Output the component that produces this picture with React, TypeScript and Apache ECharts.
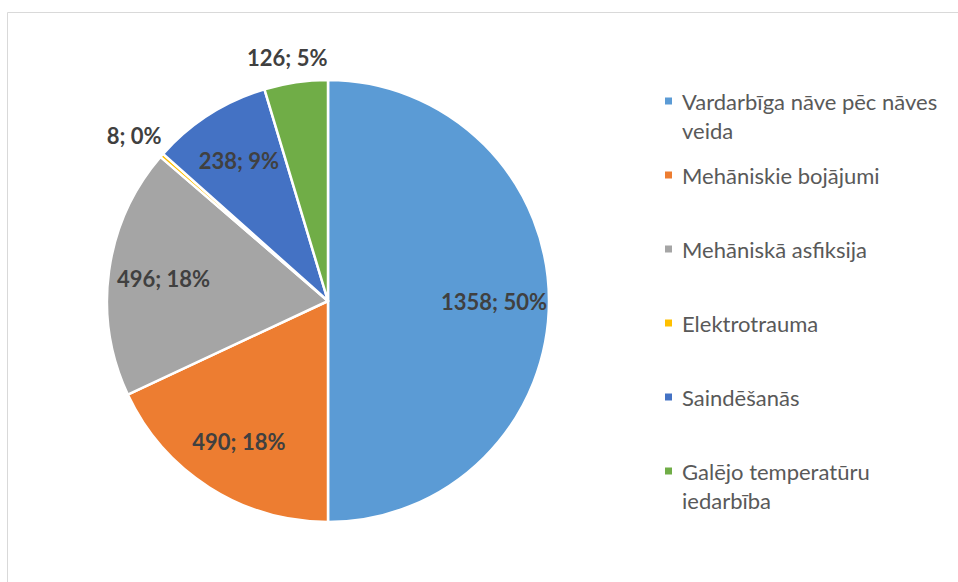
import React, { useEffect, useRef } from 'react';
import * as echarts from 'echarts';

const categories = [
  'Vardarbīga nāve pēc nāves veida',
  'Mehāniskie bojājumi',
  'Mehāniskā asfiksija',
  'Elektrotrauma',
  'Saindēšanās',
  'Galējo temperatūru iedarbība',
];
const values = [1358, 490, 496, 8, 238, 126];
const colors = ['#5B9BD5', '#ED7D31', '#A5A5A5', '#FFC000', '#4472C4', '#70AD47'];

// style configuration
const outsideLabelIdx = [3, 5];
const outsideLabelLen = [0, 0, 0, 30, 0, 25];
const wrappedLegendIdx = [0, 5];

export default function App() {
  const ref = useRef<HTMLDivElement>(null);
  useEffect(() => {
    if (!ref.current) return;
    const chart = echarts.init(ref.current, undefined, { renderer: 'svg' });
    const LH = 29;
    const center = [328, 301];
    const font = 'Lato, "Open Sans", sans-serif';
    chart.setOption({
      animation: false,
      color: colors,
      graphic: [
        {
          type: 'rect',
          silent: true,
          z: -10,
          shape: { x: 7.5, y: 12.5, width: 1000, height: 1000 },
          style: { fill: 'none', stroke: '#d9d9d9', lineWidth: 1 },
        },
      ],
      legend: {
        orient: 'vertical',
        left: 663,
        top: 101 - 1.5 * LH,
        padding: 0,
        itemWidth: 9,
        itemHeight: 9,
        itemGap: 74 - 3 * LH,
        icon: 'rect',
        selectedMode: false,
        formatter: (name: string) => {
          const i = categories.indexOf(name);
          const lines = wrappedLegendIdx.includes(i)
            ? name.replace(/ (\S+)$/, '\n$1').split('\n')
            : [name];
          return lines.map((l) => `{t|${l}}`).join('\n');
        },
        textStyle: {
          fontFamily: font,
          fontSize: 22,
          color: '#595959',
          lineHeight: LH,
          rich: {
            t: { fontFamily: font, fontSize: 22, color: '#595959', lineHeight: LH },
          },
        },
        data: categories.map((n, i) => ({
          name: n,
          textStyle: {
            padding: wrappedLegendIdx.includes(i) ? [LH, 0, 0, 4] : [LH, 0, LH, 4],
          },
        })),
      },
      series: [
        {
          type: 'pie',
          center,
          radius: 221,
          startAngle: 90,
          clockwise: true,
          label: { show: false },
          labelLine: { show: false },
          itemStyle: { borderColor: '#ffffff', borderWidth: 2.5 },
          emphasis: { disabled: true },
          data: categories.map((n, i) => ({ name: n, value: values[i] })),
        },
        {
          type: 'pie',
          center,
          radius: [105, 221],
          startAngle: 90,
          clockwise: true,
          silent: true,
          avoidLabelOverlap: false,
          itemStyle: { color: 'transparent', borderWidth: 0 },
          emphasis: { disabled: true },
          label: {
            show: true,
            position: 'inside',
            fontFamily: font,
            fontWeight: 'bold',
            fontSize: 22,
            color: '#404040',
            formatter: (p: any) => `${p.value}; ${Math.round(p.percent)}%`,
          },
          labelLine: { show: false },
          labelLayout: (p: any) =>
            outsideLabelIdx.includes(p.dataIndex) ? { align: 'center' } : {},
          data: categories.map((n, i) => {
            const out = outsideLabelIdx.includes(i);
            return out
              ? {
                  name: n,
                  value: values[i],
                  label: { position: 'outside' },
                  labelLine: { show: false, length: outsideLabelLen[i], length2: 0 },
                }
              : { name: n, value: values[i] };
          }),
        },
      ],
    });
    return () => chart.dispose();
  }, []);
  return (
    <div
      ref={ref}
      style={{ position: 'absolute', left: 0, top: 0, width: 958, height: 582, background: '#fff' }}
    />
  );
}
